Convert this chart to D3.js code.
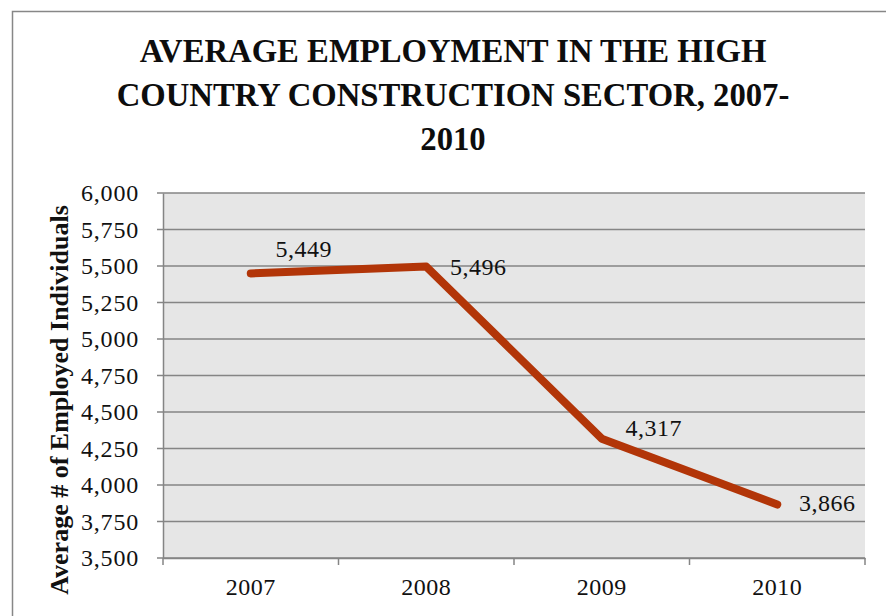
<!DOCTYPE html>
<html>
<head>
<meta charset="utf-8">
<script src="https://cdn.jsdelivr.net/npm/d3@7"></script>
<style>
  body { margin: 0; background: #fff; }
  svg { display: block; font-family: "Liberation Serif", "Times New Roman", serif; }
</style>
</head>
<body>
<svg id="chart"></svg>
<script>
// values
const years = ["2007", "2008", "2009", "2010"]
const employment = [5449, 5496, 4317, 3866]
const yTicks = [3500, 3750, 4000, 4250, 4500, 4750, 5000, 5250, 5500, 5750, 6000]
const titleLines = ["AVERAGE EMPLOYMENT IN THE HIGH", "COUNTRY CONSTRUCTION SECTOR, 2007-", "2010"]

// label nudges (Excel put the first one above to dodge the line)
const labelDx = [53, 52, 52, 50]
const labelDy = [-25, 0, -11, -2]

let width = 886,
    height = 616,
    margin = {top: 193, right: 21, bottom: 58, left: 163}

let svg = d3.select("#chart")
    .attr("width", width)
    .attr("height", height)

// outer chart border, runs off the right/bottom edge
svg.append("rect")
    .attr("x", 12.5).attr("y", 11.5)
    .attr("width", width).attr("height", height)
    .attr("fill", "#fff")
    .attr("stroke", "#878787")
    .attr("stroke-width", 1.5)

let x = d3.scaleBand()
    .domain(years)
    .range([margin.left, width - margin.right])

let y = d3.scaleLinear()
    .domain([3500, 6000])
    .range([height - margin.bottom, margin.top])

// plot area
svg.append("rect")
    .attr("x", margin.left)
    .attr("y", margin.top)
    .attr("width", width - margin.right - margin.left)
    .attr("height", height - margin.bottom - margin.top)
    .attr("fill", "#e6e6e6")

// grid
svg.append("g")
    .selectAll("line")
    .data(yTicks)
    .enter().append("line")
    .attr("x1", margin.left - 6)
    .attr("x2", width - margin.right)
    .attr("y1", d => y(d))
    .attr("y2", d => y(d))
    .attr("stroke", "#858585")
    .attr("stroke-width", 1.5)

// y axis
let yAxis = d3.axisLeft(y)
    .tickValues(yTicks)
    .tickFormat(d3.format(","))
    .tickSize(0)
    .tickPadding(24)

let gy = svg.append("g")
    .attr("transform", "translate(" + margin.left + ",0)")
    .call(yAxis)
gy.select(".domain").attr("stroke", "#858585").attr("stroke-width", 1.5)
gy.selectAll("text")
    .attr("font-size", 24)
    .attr("letter-spacing", 0.8)
    .attr("font-family", "Liberation Serif, serif")
    .attr("fill", "#111")
    .attr("dy", "0.33em")

// x axis
let xAxis = d3.axisBottom(x)
    .tickSize(0)
    .tickPadding(20)

let gx = svg.append("g")
    .attr("transform", "translate(0," + y(3500) + ")")
    .call(xAxis)
gx.select(".domain").attr("stroke", "#858585").attr("stroke-width", 1.5)
gx.selectAll("text")
    .attr("font-size", 24)
    .attr("letter-spacing", 0.5)
    .attr("font-family", "Liberation Serif, serif")
    .attr("fill", "#111")

// category separators below the axis
let edges = years.map(d => x(d)).concat([x(years[years.length - 1]) + x.bandwidth()])
gx.selectAll("line.sep")
    .data(edges)
    .enter().append("line")
    .attr("class", "sep")
    .attr("x1", d => d).attr("x2", d => d)
    .attr("y1", 0).attr("y2", 7)
    .attr("stroke", "#858585")
    .attr("stroke-width", 1.5)

// the line
let line = d3.line()
    .x((d, i) => x(years[i]) + x.bandwidth() / 2)
    .y(d => y(d))

svg.append("path")
    .datum(employment)
    .attr("d", line)
    .attr("fill", "none")
    .attr("stroke", "#b23508")
    .attr("stroke-width", 8)
    .attr("stroke-linecap", "round")
    .attr("stroke-linejoin", "round")

// data labels
svg.append("g")
    .selectAll("text")
    .data(employment)
    .enter().append("text")
    .attr("x", (d, i) => x(years[i]) + x.bandwidth() / 2 + labelDx[i])
    .attr("y", (d, i) => y(d) + labelDy[i])
    .attr("dy", "0.35em")
    .attr("text-anchor", "middle")
    .attr("font-size", 24)
    .attr("letter-spacing", 0.5)
    .attr("fill", "#111")
    .text(d => d3.format(",")(d))

// title
svg.append("g")
    .selectAll("text")
    .data(titleLines)
    .enter().append("text")
    .attr("x", 453)
    .attr("y", (d, i) => 62 + i * 44)
    .attr("text-anchor", "middle")
    .attr("font-size", 32.7)
    .attr("font-weight", "bold")
    .attr("fill", "#0d0d0d")
    .text(d => d)

// y title
svg.append("text")
    .attr("transform", "translate(68," + 400 + ") rotate(-90)")
    .attr("text-anchor", "middle")
    .attr("font-size", 26)
    .attr("font-weight", "bold")
    .attr("fill", "#111")
    .text("Average # of Employed Individuals")
</script>
</body>
</html>
